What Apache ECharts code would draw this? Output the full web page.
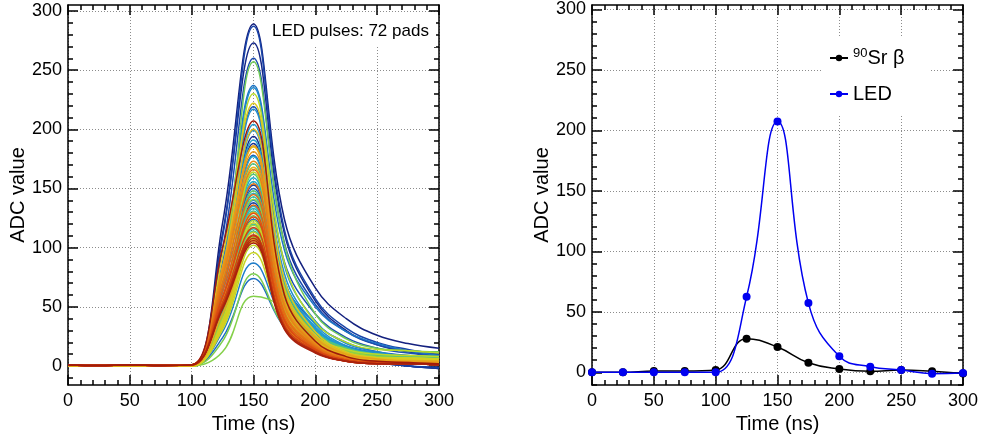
<!DOCTYPE html>
<html>
<head>
<meta charset="utf-8">
<title>ADC pulse shapes</title>
<script src="https://cdn.jsdelivr.net/npm/echarts@6/dist/echarts.min.js"></script>
<style>
  html, body { margin: 0; padding: 0; background: #fff; }
  #chart { width: 981px; height: 444px; }
</style>
</head>
<body>
<div id="chart"></div>
<script>
// Sampling times of the ADC (ns)
const timeNs = [0, 25, 50, 75, 100, 125, 150, 175, 200, 225, 250, 275, 300];

// Axis tick labels
const xTickValues = [0, 50, 100, 150, 200, 250, 300];
const yTickValues = [0, 50, 100, 150, 200, 250, 300];

// LED pulses recorded on the 72 pads, in drawing order (one row per pad, one value per sample)
const ledPulses = [
  [0, 0, 0, 0, 0, 121, 289, 124, 66, 40, 26, 19, 15],
  [0, 0, 0, 0, 0, 112, 273, 112, 55, 30, 18, 12, 9],
  [0, 0, 0, 0, 0, 68, 194, 70, 29, 12, 4, 0, -2],
  [0, 0, 0, 0, 0, 66, 188, 68, 28, 11, 4, 0, -2],
  [0, 0, 0, 0, 0, 54, 153, 55, 23, 9, 3, 0, -2],
  [0, 0, 0, 0, 0, 48, 138, 50, 21, 8, 3, 0, -1],
  [0, 0, 0, 0, 0, 109, 287, 115, 57, 32, 20, 14, 10],
  [0, 0, 0, 0, 0, 99, 260, 104, 52, 29, 18, 13, 9],
  [0, 0, 0, 0, 0, 83, 219, 88, 44, 24, 15, 11, 8],
  [0, 0, 0, 0, 0, 68, 178, 71, 36, 20, 12, 9, 6],
  [0, 0, 0, 0, 0, 57, 150, 60, 30, 17, 11, 8, 5],
  [0, 0, 0, 0, 0, 47, 124, 50, 25, 14, 9, 6, 4],
  [0, 0, 0, 0, 0, 24, 74, 33, 16, 9, 6, 4, 3],
  [0, 0, 0, 0, 0, 88, 237, 98, 50, 29, 19, 13, 9],
  [0, 0, 0, 0, 0, 29, 87, 38, 19, 11, 7, 5, 4],
  [0, 0, 0, 0, 0, 52, 140, 57, 28, 16, 11, 8, 6],
  [0, 0, 0, 0, 0, 82, 235, 85, 38, 19, 12, 8, 7],
  [0, 0, 0, 0, 0, 76, 217, 78, 35, 17, 11, 8, 7],
  [0, 0, 0, 0, 0, 70, 199, 72, 32, 16, 10, 7, 6],
  [0, 0, 0, 0, 0, 71, 204, 73, 33, 16, 10, 7, 6],
  [0, 0, 0, 0, 0, 67, 191, 69, 31, 15, 10, 7, 6],
  [0, 0, 0, 0, 0, 62, 177, 64, 28, 14, 9, 6, 5],
  [0, 0, 0, 0, 0, 56, 159, 57, 25, 13, 8, 6, 5],
  [0, 0, 0, 0, 0, 55, 156, 56, 25, 12, 8, 5, 5],
  [0, 0, 0, 0, 0, 51, 146, 53, 23, 12, 7, 5, 4],
  [0, 0, 0, 0, 0, 47, 135, 49, 22, 11, 7, 5, 4],
  [0, 0, 0, 0, 0, 47, 133, 48, 21, 11, 7, 5, 4],
  [0, 0, 0, 0, 0, 42, 120, 43, 19, 10, 6, 4, 4],
  [0, 0, 0, 0, 0, 41, 116, 42, 19, 9, 6, 4, 3],
  [0, 0, 0, 0, 0, 43, 143, 57, 24, 13, 9, 7, 6],
  [0, 0, 0, 0, 0, 39, 131, 52, 22, 12, 8, 7, 6],
  [0, 0, 0, 0, 0, 34, 114, 46, 19, 10, 7, 6, 5],
  [0, 0, 0, 0, 0, 51, 171, 68, 29, 15, 10, 9, 8],
  [0, 0, 0, 0, 0, 49, 162, 65, 28, 15, 10, 8, 7],
  [0, 0, 0, 0, 0, 44, 148, 59, 25, 13, 9, 7, 7],
  [0, 0, 0, 0, 0, 38, 127, 51, 22, 11, 8, 6, 6],
  [0, 0, 0, 0, 0, 77, 257, 103, 44, 23, 15, 13, 12],
  [0, 0, 0, 0, 0, 21, 78, 33, 15, 8, 6, 5, 4],
  [0, 0, 0, 0, 0, 12, 59, 49, 20, 10, 7, 6, 5],
  [0, 0, 0, 0, 0, 42, 141, 56, 24, 13, 8, 7, 6],
  [0, 0, 0, 0, 0, 36, 119, 48, 20, 11, 7, 6, 5],
  [0, 0, 0, 0, 0, 33, 109, 44, 19, 10, 7, 5, 5],
  [0, 0, 0, 0, 0, 37, 123, 49, 21, 11, 7, 6, 6],
  [0, 0, 0, 0, 0, 74, 230, 87, 37, 20, 14, 13, 11],
  [0, 0, 0, 0, 0, 52, 164, 62, 26, 14, 10, 9, 8],
  [0, 0, 0, 0, 0, 33, 102, 39, 16, 9, 6, 6, 5],
  [0, 0, 0, 0, 0, 31, 96, 36, 15, 8, 6, 5, 5],
  [0, 0, 0, 0, 0, 39, 121, 46, 19, 10, 7, 7, 6],
  [0, 0, 0, 0, 0, 36, 113, 43, 18, 10, 7, 6, 6],
  [0, 0, 0, 0, 0, 34, 107, 41, 17, 9, 6, 6, 5],
  [0.5, 0.5, 0.5, 0.5, 0.5, 93, 222, 73, 29, 12, 7, 5, 4],
  [0.5, 0.5, 0.5, 0.5, 0.5, 78, 185, 61, 24, 10, 6, 4, 4],
  [0.5, 0.5, 0.5, 0.5, 0.5, 84, 200, 66, 26, 11, 6, 5, 4],
  [0.5, 0.5, 0.5, 0.5, 0.5, 71, 168, 55, 22, 9, 5, 4, 3],
  [0.5, 0.5, 0.5, 0.5, 0.5, 55, 130, 43, 17, 7, 4, 3, 3],
  [0.5, 0.5, 0.5, 0.5, 0.5, 44, 105, 35, 14, 6, 3, 3, 2],
  [0.5, 0.5, 0.5, 0.5, 0.5, 78, 186, 61, 24, 10, 6, 4, 4],
  [1, 0.5, 1, 0.5, 1, 83, 181, 54, 20, 7, 4, 3, 2],
  [1, 0.5, 1, 0.5, 1, 80, 173, 52, 19, 7, 4, 3, 2],
  [1, 0.5, 1, 0.5, 1, 76, 166, 50, 18, 7, 4, 3, 2],
  [1, 0.5, 1, 0.5, 1, 71, 154, 46, 17, 6, 3, 2, 2],
  [1, 0.5, 1, 0.5, 1, 67, 145, 44, 16, 6, 3, 2, 2],
  [1, 0.5, 1, 0.5, 1, 63, 136, 41, 15, 5, 3, 2, 2],
  [1, 0.5, 1, 0.5, 1, 59, 129, 39, 14, 5, 3, 2, 2],
  [1, 0.5, 1, 0.5, 1, 58, 126, 38, 14, 5, 3, 2, 2],
  [1, 0.5, 1, 0.5, 1, 54, 117, 35, 13, 5, 3, 2, 1],
  [1, 0.5, 1, 0.5, 1, 51, 111, 33, 12, 4, 2, 2, 1],
  [1, 0.5, 1, 0.5, 1, 51, 110, 33, 12, 4, 2, 2, 1],
  [1, 0.5, 1, 0.5, 1, 50, 108, 32, 12, 4, 2, 2, 1],
  [1, 0.5, 1, 0.5, 1, 49, 106, 32, 12, 4, 2, 2, 1],
  [1, 0.5, 1, 0.5, 1, 48, 104, 31, 11, 4, 2, 2, 1],
  [1, 0.5, 1, 0.5, 1, 100, 207, 60, 21, 8, 4, 3, 2]
];

// Averaged pulses: 90Sr beta source and LED
const srBetaPulse = [0, 0, 1.1, 1.0, 1.9, 27.8, 20.9, 7.9, 2.7, 0.8, 1.9, 0.8, -1.0];
const ledMeanPulse = [0, 0, 0, 0, 0, 62.4, 207.3, 57.2, 13.2, 4.6, 1.9, -1.1, -0.6];

const FONT = '"Liberation Sans", Arial, Helvetica, sans-serif';

// Rainbow palette, pads are coloured by their position in the drawing order
const paletteStops = ['#14217f', '#1a4bb0', '#1f7ecb', '#23a7cf', '#2fbcae', '#6cc95a',
                      '#b4dc2c', '#dccb1e', '#ea9a1a', '#dc4b12', '#a01a0c'];
function hexToRgb(h) {
  return [parseInt(h.slice(1, 3), 16), parseInt(h.slice(3, 5), 16), parseInt(h.slice(5, 7), 16)];
}
function paletteColor(f) {
  const pos = f * (paletteStops.length - 1);
  const i = Math.min(Math.floor(pos), paletteStops.length - 2);
  const t = pos - i;
  const a = hexToRgb(paletteStops[i]), b = hexToRgb(paletteStops[i + 1]);
  const c = a.map((v, k) => Math.round(v + (b[k] - v) * t));
  return 'rgb(' + c.join(',') + ')';
}

const frameLine = { color: '#000', width: 1.5 };
const gridLine = { color: '#8c8c8c', width: 1, type: [1, 2] };

function makeXAxes(gi) {
  const base = { type: 'value', gridIndex: gi, min: 0, max: 300, interval: 50 };
  return [
    Object.assign({}, base, {
      position: 'bottom',
      name: 'Time (ns)', nameLocation: 'middle', nameGap: 29,
      nameTextStyle: { fontSize: 20, color: '#000', fontFamily: FONT },
      axisLine: { show: true, onZero: false, lineStyle: frameLine },
      axisTick: { show: true, inside: true, length: 10, lineStyle: frameLine },
      minorTick: { show: true, splitNumber: 5, length: 5, lineStyle: frameLine },
      axisLabel: { fontSize: 18, color: '#000', margin: 7, fontFamily: FONT,
                   customValues: xTickValues },
      splitLine: { show: true, lineStyle: gridLine }
    }),
    Object.assign({}, base, {
      position: 'top',
      axisLine: { show: true, onZero: false, lineStyle: frameLine },
      axisTick: { show: true, inside: true, length: 10, lineStyle: frameLine },
      minorTick: { show: true, splitNumber: 5, length: 5, lineStyle: frameLine },
      axisLabel: { show: false },
      splitLine: { show: false }
    })
  ];
}

function makeYAxes(gi, min, max) {
  const minor = [];
  for (let v = Math.ceil(min / 10) * 10; v <= max; v += 10) minor.push(v);
  const base = { type: 'value', gridIndex: gi, min: min, max: max, splitNumber: 5 };
  const ticksOnly = (pos, len, values) => Object.assign({}, base, {
    position: pos,
    axisLine: { show: pos === 'right' && len === 10, onZero: false, lineStyle: frameLine },
    axisTick: { show: true, inside: true, length: len, lineStyle: frameLine, customValues: values },
    axisLabel: { show: false },
    splitLine: { show: false }
  });
  return [
    Object.assign({}, base, {
      position: 'left',
      name: 'ADC value', nameLocation: 'middle', nameGap: 38,
      nameTextStyle: { fontSize: 20, color: '#000', fontFamily: FONT },
      axisLine: { show: true, onZero: false, lineStyle: frameLine },
      axisTick: { show: true, inside: true, length: 10, lineStyle: frameLine, customValues: yTickValues },
      axisLabel: { fontSize: 18, color: '#000', margin: 6, fontFamily: FONT, customValues: yTickValues },
      splitLine: { show: true, lineStyle: gridLine }
    }),
    ticksOnly('left', 5, minor),
    ticksOnly('right', 10, yTickValues),
    ticksOnly('right', 5, minor)
  ];
}

const pulseSeries = ledPulses.map((row, i) => ({
  type: 'line',
  name: 'pad ' + (i + 1),
  xAxisIndex: 0, yAxisIndex: 0,
  data: row.map((v, k) => [timeNs[k], v]),
  showSymbol: false,
  smooth: 0.4,
  silent: true,
  z: 2,
  lineStyle: { width: 1.5, color: paletteColor(i / (ledPulses.length - 1)) },
  itemStyle: { color: paletteColor(i / (ledPulses.length - 1)) }
}));

const compareSeries = [
  {
    type: 'line', name: 'Sr β', xAxisIndex: 2, yAxisIndex: 4,
    data: srBetaPulse.map((v, k) => [timeNs[k], v]),
    smooth: 0.45, symbol: 'circle', symbolSize: 8, showSymbol: true, z: 3,
    lineStyle: { width: 1.5, color: '#000' }, itemStyle: { color: '#000' }
  },
  {
    type: 'line', name: 'LED', xAxisIndex: 2, yAxisIndex: 4,
    data: ledMeanPulse.map((v, k) => [timeNs[k], v]),
    smooth: 0.45, symbol: 'circle', symbolSize: 8, showSymbol: true, z: 4,
    lineStyle: { width: 1.5, color: '#0000f0' }, itemStyle: { color: '#0000f0' }
  }
];

const chart = echarts.init(document.getElementById('chart'), null, { renderer: 'canvas' });
chart.setOption({
  animation: false,
  backgroundColor: '#fff',
  textStyle: { fontFamily: FONT },
  grid: [
    { left: 68, top: 5, width: 371, height: 380, containLabel: false, outerBoundsMode: 'none' },
    { left: 592, top: 5, width: 371, height: 380, containLabel: false, outerBoundsMode: 'none' }
  ],
  xAxis: makeXAxes(0).concat(makeXAxes(1)),
  yAxis: makeYAxes(0, -16, 305).concat(makeYAxes(1, -10.5, 303.6)),
  legend: {
    data: ['Sr β', 'LED'],
    orient: 'vertical',
    left: 823, top: 37,
    padding: [10, 26, 10, 6],
    backgroundColor: '#fff',
    itemWidth: 18, itemHeight: 8, itemGap: 16,
    selectedMode: false,
    formatter: name => name === 'Sr β' ? '{sup|90}{main|Sr β}' : '{main|LED}',
    textStyle: {
      color: '#000', fontFamily: FONT, fontSize: 20,
      rich: {
        sup: { fontSize: 13, fontFamily: FONT, color: '#000', verticalAlign: 'top', lineHeight: 13 },
        main: { fontSize: 20, fontFamily: FONT, color: '#000', lineHeight: 22 }
      }
    }
  },
  graphic: [
    { type: 'rect', left: 266, top: 17, shape: { width: 170, height: 30 }, style: { fill: '#fff' }, z: 1 },
    { type: 'text', left: 272, top: 23, z: 10,
      style: { text: 'LED pulses: 72 pads', fontSize: 17, fontFamily: FONT, fill: '#000' } }
  ],
  series: pulseSeries.concat(compareSeries)
});
</script>
</body>
</html>
